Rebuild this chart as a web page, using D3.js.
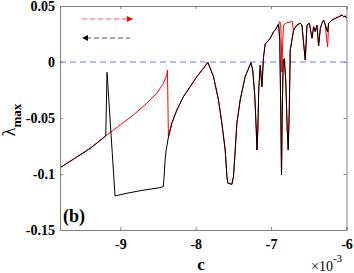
<!DOCTYPE html>
<html lang="en">
<head>
<meta charset="utf-8">
<script src="https://cdn.jsdelivr.net/npm/d3@7"></script>
<style>
  body { margin: 0; background: #fff; }
  text { font-family: "Liberation Serif", "Times New Roman", serif; }
</style>
</head>
<body>
<script>
// c values in units of 1e-3, lambda_max values
var xTicks = [-9, -8, -7, -6];
var yTicks = [0.05, 0, -0.05, -0.1, -0.15];

// shared by both sweeps, left part
var commonLeft = [[-9.8,-0.0944],[-9.6,-0.0858],[-9.4,-0.0771],[-9.193,-0.066]];
// forward sweep (red) branch
var redJump = [[-9.1,-0.0612],[-9.003,-0.0563],[-8.827,-0.0473],[-8.649,-0.0369],[-8.516,-0.0279],
  [-8.428,-0.019],[-8.383,-0.0116],[-8.375,-0.0071],[-8.362,-0.0672]];
// backward sweep (black) branch
var blackJump = [[-9.176,-0.0092],[-9.07,-0.1196],[-8.9,-0.117],[-8.7,-0.1145],[-8.5,-0.1125],
  [-8.43,-0.1113],[-8.419,-0.1024],[-8.406,-0.0875],[-8.392,-0.0786],[-8.362,-0.0672]];
// shared middle and right part
var commonRight = [[-8.317,-0.0547],[-8.25,-0.0429],[-8.163,-0.031],[-8.074,-0.0221],[-7.985,-0.0131],
  [-7.897,-0.0056],[-7.839,-0.0003],[-7.764,-0.0131],[-7.698,-0.0339],[-7.653,-0.0547],[-7.609,-0.0786],
  [-7.586,-0.1024],[-7.573,-0.1083],[-7.52,-0.1092],[-7.499,-0.1024],[-7.476,-0.0786],[-7.454,-0.0547],
  [-7.41,-0.0339],[-7.344,-0.0131],[-7.268,-0.0006],[-7.244,-0.0071],[-7.217,-0.0295],[-7.197,-0.0607],
  [-7.187,-0.0786],[-7.176,-0.0607],[-7.164,-0.025],[-7.144,-0.0027],[-7.122,-0.0221],[-7.1,0.0047],
  [-7.078,0.0161],[-7.051,0.0179],[-7.031,0.0196],[-7.011,0.0214],[-6.989,0.0241],[-6.967,0.0271],
  [-6.945,0.0286],[-6.922,0.0313],[-6.901,0.0339],[-6.885,0.0196],[-6.872,-0.0429],[-6.862,-0.1009],
  [-6.852,-0.0429],[-6.839,0.0018],[-6.825,0.003],[-6.806,-0.016],[-6.786,-0.0607],[-6.773,-0.0786],
  [-6.759,-0.0429],[-6.746,0.0107],[-6.702,0.0286],[-6.657,0.033],[-6.613,0.0346],[-6.591,0.033],
  [-6.567,0.0152],[-6.547,0.0018],[-6.524,0.033],[-6.493,0.0346],[-6.458,0.0212],[-6.436,0.0315],
  [-6.414,0.0271],[-6.392,0.033],[-6.37,0.0143],[-6.347,0.0301],[-6.325,0.0346],[-6.303,0.0375],
  [-6.281,0.033],[-6.25,0.0268],[-6.237,0.0346],[-6.192,0.0375],[-6.148,0.039],[-6.104,0.0404],
  [-6.059,0.042],[-6.037,0.0404],[-6.015,0.0411],[-6.0,0.039]];
// places where the red sweep stays apart from the black one
var redOnlyA = [[-6.901,0.0339],[-6.885,0.036],[-6.872,0.033],[-6.862,0.0107],[-6.857,-0.0089],
  [-6.849,0.0107],[-6.836,0.033],[-6.791,0.0351],[-6.746,0.0357],[-6.72,0.0362],[-6.713,0.032],[-6.702,0.0286]];
var redOnlyB = [[-6.281,0.033],[-6.262,0.02],[-6.25,0.0137],[-6.243,0.025],[-6.237,0.0346]];

var w = 354, h = 273;
var padL = 60, padR = 346.5, padT = 6, padB = 230;

var xScale = d3.scaleLinear().domain([-9.8, -6]).range([padL, padR]);
var yScale = d3.scaleLinear().domain([-0.15, 0.05]).range([padB, padT]);

var svg = d3.select("body").append("svg")
    .attr("width", w)
    .attr("height", h);

var line = d3.line()
    .x(function(d) { return xScale(d[0]); })
    .y(function(d) { return yScale(d[1]); });

// zero line
svg.append("line")
    .attr("x1", padL).attr("x2", padR)
    .attr("y1", yScale(0)).attr("y2", yScale(0))
    .attr("stroke", "#a3a3ff")
    .attr("stroke-width", 1.5)
    .attr("stroke-dasharray", "6,4");

var redData = commonLeft.concat(redJump, commonRight);
var blackData = commonLeft.concat(blackJump, commonRight);

svg.append("path").datum(redData)
    .attr("d", line).attr("fill", "none").attr("stroke", "#ff0000").attr("stroke-width", 1);
[redOnlyA, redOnlyB].forEach(function(seg) {
  svg.append("path").datum(seg)
      .attr("d", line).attr("fill", "none").attr("stroke", "#ff0000").attr("stroke-width", 1);
});
svg.append("path").datum(blackData)
    .attr("d", line).attr("fill", "none").attr("stroke", "#000").attr("stroke-width", 1);

// axes box
var axisColor = "#808080";
var font = "\"Liberation Serif\", \"Times New Roman\", serif";
var fmt = function(d) { return d === 0 ? "0" : String(+d.toFixed(2)); };

svg.append("g")
    .attr("transform", "translate(0," + padB + ")")
    .call(d3.axisBottom(xScale).tickValues(xTicks).tickSize(-3).tickPadding(9).tickFormat(fmt));
svg.append("g")
    .attr("transform", "translate(" + padL + ",0)")
    .call(d3.axisLeft(yScale).tickValues(yTicks).tickSize(-3).tickPadding(5).tickFormat(fmt));
svg.append("g")
    .attr("transform", "translate(0," + padT + ")")
    .call(d3.axisTop(xScale).tickValues(xTicks).tickSize(-3).tickFormat(""));
svg.append("g")
    .attr("transform", "translate(" + padR + ",0)")
    .call(d3.axisRight(yScale).tickValues(yTicks).tickSize(-3).tickFormat(""));

svg.selectAll(".domain").attr("stroke", axisColor).attr("stroke-width", 1);
svg.selectAll(".tick line").attr("stroke", axisColor);
svg.selectAll(".tick text")
    .attr("font-family", font)
    .attr("font-weight", "bold")
    .attr("font-size", "14px")
    .attr("fill", "#000");

// labels
svg.append("text")
    .attr("x", 201).attr("y", 270)
    .attr("text-anchor", "middle")
    .attr("font-weight", "bold")
    .attr("font-size", "17px")
    .text("c");

var expo = svg.append("text")
    .attr("x", 311).attr("y", 271)
    .attr("font-size", "14px");
expo.append("tspan").text("\u00d710");
expo.append("tspan").attr("dy", -9).attr("font-size", "11px").text("-3");

var yl = svg.append("text")
    .attr("transform", "translate(15,120) rotate(-90)")
    .attr("text-anchor", "middle");
yl.append("tspan").attr("font-size", "18px").text("\u03bb");
yl.append("tspan").attr("dy", 6).attr("font-size", "13px").attr("font-weight", "bold").text("max");

svg.append("text")
    .attr("x", 63).attr("y", 222)
    .attr("font-weight", "bold")
    .attr("font-size", "18px")
    .text("(b)");

// legend arrows
svg.append("line")
    .attr("x1", 82).attr("x2", 128).attr("y1", 19).attr("y2", 19)
    .attr("stroke", "#ff5050").attr("stroke-width", 1.2).attr("stroke-dasharray", "5,3");
svg.append("path")
    .attr("d", "M127,16 L133,19 L127,22 Z").attr("fill", "#ff0000");
svg.append("line")
    .attr("x1", 86).attr("x2", 130).attr("y1", 38).attr("y2", 38)
    .attr("stroke", "#555").attr("stroke-width", 1.2).attr("stroke-dasharray", "5,3");
svg.append("path")
    .attr("d", "M88,35 L82,38 L88,41 Z").attr("fill", "#000");
</script>
</body>
</html>
